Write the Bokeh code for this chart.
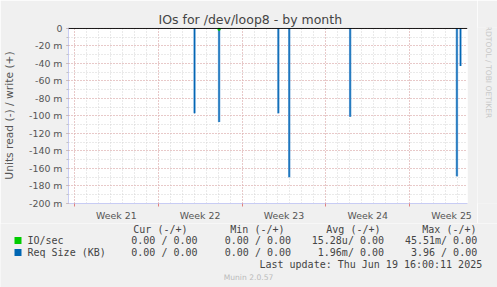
from bokeh.plotting import figure
from bokeh.layouts import column, row
from bokeh.models import Range1d, FixedTicker, Span
from bokeh.embed import file_html
from bokeh.resources import INLINE
from bokeh.core.properties import value

# ---- data ----
spike_day = [10.53, 12.58, 17.53, 18.44, 23.53, 32.45, 32.75]
req_size_read_m = [97, 107, 97, 170, 101, 169, 43]
io_day = [12.58]
io_read_m = [2]
week_labels = ["Week 21", "Week 22", "Week 23", "Week 24", "Week 25"]
week_start_day = [0.5, 7.5, 14.5, 21.5, 28.5]
y_tick_values = list(range(-200, 1, 20))
series_names = ["IO/sec", "Req Size (KB)"]
series_colors = ["#00cc00", "#0066b3"]
col_headers = ["Cur (-/+)", "Min (-/+)", "Avg (-/+)", "Max (-/+)"]
cur_vals = ["0.00 / 0.00", "0.00 / 0.00"]
min_vals = ["0.00 / 0.00", "0.00 / 0.00"]
avg_vals = ["15.28u/ 0.00", "1.96m/ 0.00"]
max_vals = ["45.51m/ 0.00", "3.96 / 0.00"]
title_text = "IOs for /dev/loop8 - by month"
y_label = "Units read (-) / write (+)"
last_update = "Last update: Thu Jun 19 16:00:11 2025"
munin_version = "Munin 2.0.57"
side_text = "RRDTOOL / TOBI OETIKER"

W, H = 497, 287
FL, FT, FW = 67, 27, 400
TOP_H = 223
SIDE_W = 20
BG = "#f0f0f0"

p = figure(width=W - SIDE_W, height=TOP_H, output_backend="svg", toolbar_location=None,
           x_range=Range1d(0, FW / 12.0), y_range=Range1d(-200, 1),
           min_border_left=FL, min_border_right=W - SIDE_W - FL - FW,
           min_border_top=FT, min_border_bottom=20)
p.background_fill_color = "white"
p.border_fill_color = BG
p.outline_line_color = None

p.title.text = title_text
p.title.align = "left"
p.title.offset = 90
p.title.standoff = 1
p.title.text_font = "DejaVu Sans"
p.title.text_font_size = "12.5px"
p.title.text_font_style = "normal"
p.title.text_color = "#444444"

# grids
days = [d + 0.5 for d in range(0, 34)]
p.xgrid.ticker = FixedTicker(ticks=week_start_day, minor_ticks=days)
p.xgrid.grid_line_color = "#e6a8a8"
p.xgrid.grid_line_dash = "1 2"
p.xgrid.minor_grid_line_color = "#d4d4d4"
p.xgrid.minor_grid_line_dash = "1 2"
p.ygrid.ticker = FixedTicker(ticks=y_tick_values, minor_ticks=list(range(-200, 1, 10)))
p.ygrid.grid_line_color = "#e6a8a8"
p.ygrid.grid_line_dash = "1 2"
p.ygrid.minor_grid_line_color = "#d4d4d4"
p.ygrid.minor_grid_line_dash = "1 2"

# x axis
week_mid = [s + 3.5 for s in week_start_day]
p.xaxis.ticker = FixedTicker(ticks=week_mid, minor_ticks=week_start_day)
p.xaxis.major_label_overrides = {m: l for m, l in zip(week_mid, week_labels)}
p.xaxis.major_tick_line_color = None
p.xaxis.minor_tick_line_color = "#e08080"
p.xaxis.minor_tick_out = 3
p.xaxis.minor_tick_in = 0
p.xaxis.major_label_standoff = 0
p.xaxis.axis_line_color = "#c8ccf4"
p.xaxis.major_label_text_font = "DejaVu Sans"
p.xaxis.major_label_text_font_size = "9.4px"
p.xaxis.major_label_text_color = "#555555"

# y axis
p.yaxis.ticker = FixedTicker(ticks=y_tick_values, minor_ticks=list(range(-200, 1, 10)))
p.yaxis.major_label_overrides = {v: ("0" if v == 0 else f"{v} m") for v in y_tick_values}
p.yaxis.major_tick_line_color = "#e08080"
p.yaxis.major_tick_out = 2
p.yaxis.major_tick_in = 0
p.yaxis.minor_tick_line_color = "#c0c0c0"
p.yaxis.minor_tick_out = 2
p.yaxis.minor_tick_in = 0
p.yaxis.major_label_standoff = 4
p.yaxis.axis_line_color = "#c8ccf4"
p.yaxis.major_label_text_font = "DejaVu Sans"
p.yaxis.major_label_text_font_size = "9.4px"
p.yaxis.major_label_text_color = "#555555"
p.yaxis.axis_label = y_label
p.yaxis.axis_label_text_font = "DejaVu Sans"
p.yaxis.axis_label_text_font_size = "10.7px"
p.yaxis.axis_label_text_font_style = "normal"
p.yaxis.axis_label_text_color = "#555555"
p.yaxis.axis_label_standoff = 10

# series (read is drawn below zero)
neg_req = [-v for v in req_size_read_m]
p.vbar(x=spike_day, width=0.2, top=0, bottom=neg_req,
       fill_color="#6fa6d8", line_color=None)
p.segment(x0=spike_day, y0=[0] * len(spike_day), x1=spike_day, y1=neg_req,
          line_color="#0066b3", line_width=1)
p.vbar(x=io_day, width=0.17, top=0, bottom=[-v for v in io_read_m],
       fill_color="#00cc00", line_color="#00cc00", line_width=1)
p.add_layout(Span(location=0, dimension="width", line_color="black", line_width=1))

# side strip with the rrdtool credit (y measured upward from the strip bottom)
side = figure(width=SIDE_W, height=TOP_H, output_backend="svg", toolbar_location=None,
              x_range=Range1d(W - SIDE_W, W), y_range=Range1d(0, TOP_H),
              x_axis_location=None, y_axis_location=None, min_border=0)
side.grid.visible = False
side.background_fill_color = BG
side.border_fill_color = BG
side.outline_line_color = None
side.text(x=[488], y=[TOP_H - 53], text=[side_text], angle=-1.5708, text_align="center",
          text_baseline="middle", text_font=value("DejaVu Sans"), text_font_size="7.6px",
          text_color="#c8c8c8")

# legend area (coordinates in page pixels)
LH = H - TOP_H
leg = figure(width=W, height=LH, output_backend="svg", toolbar_location=None,
             x_range=Range1d(0, W), y_range=Range1d(H, TOP_H),
             x_axis_location=None, y_axis_location=None, min_border=0)
leg.grid.visible = False
leg.background_fill_color = BG
leg.border_fill_color = BG
leg.outline_line_color = None

mono = value("DejaVu Sans Mono")
header_right = [187, 284, 380, 476]
leg.text(x=header_right, y=[228.5] * 4, text=col_headers, text_align="right", text_baseline="middle",
         text_font=mono, text_font_size="10px", text_color="#444444")
rows_y = [240, 252]
leg.rect(x=[17.5, 17.5], y=rows_y, width=7, height=7, fill_color=series_colors, line_color=None)
leg.text(x=[27, 27], y=rows_y, text=series_names, text_align="left", text_baseline="middle",
         text_font=mono, text_font_size="10px", text_color="#444444")
for vals, xr in ((cur_vals, 197), (min_vals, 290.5), (avg_vals, 383.5), (max_vals, 476.7)):
    leg.text(x=[xr, xr], y=rows_y, text=vals, text_align="right", text_baseline="middle",
             text_font=mono, text_font_size="10px", text_color="#444444")
leg.text(x=[481.7], y=[263.5], text=[last_update], text_align="right", text_baseline="middle",
         text_font=mono, text_font_size="10px", text_color="#444444")
leg.text(x=[248], y=[276.5], text=[munin_version], text_align="center", text_baseline="middle",
         text_font=value("DejaVu Sans"), text_font_size="7.6px", text_color="#bbbbbb")

layout = column(row(p, side, spacing=0), leg, spacing=0)
open("out.html", "w").write(file_html(layout, INLINE))
